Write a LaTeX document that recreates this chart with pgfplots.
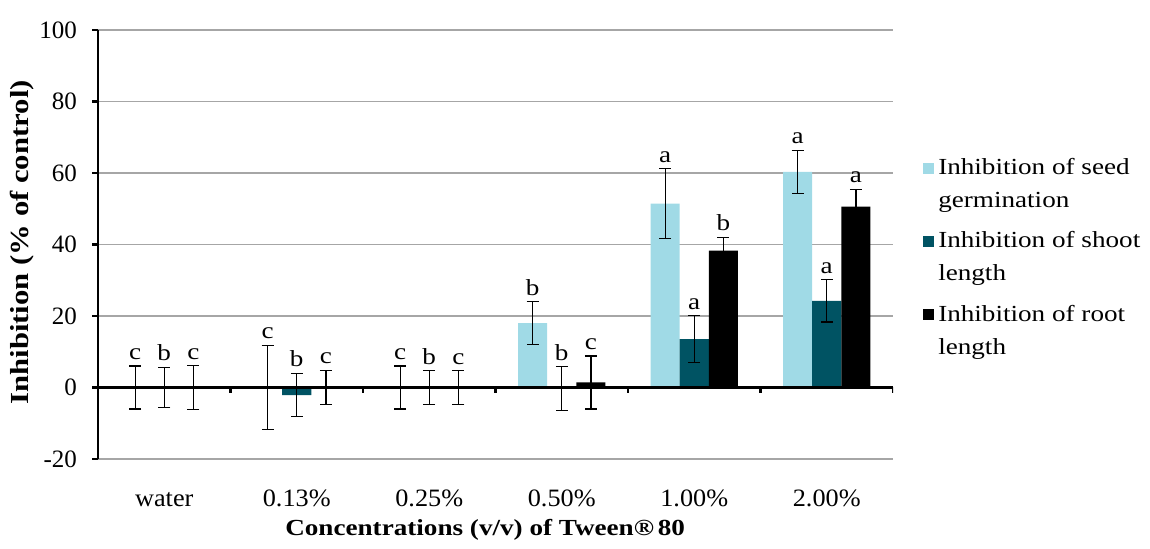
\documentclass[border=0pt]{standalone}
\usepackage{fontspec}
\setmainfont{Liberation Serif}
\newfontfamily\wide[FakeStretch=1.18]{Liberation Serif}
\newfontfamily\semiwide[FakeStretch=1.05]{Liberation Serif}
\usepackage{pgfplots}
\pgfplotsset{compat=1.18}
\definecolor{lb}{HTML}{A0DAE6}
\definecolor{tealc}{HTML}{005363}
\newcommand{\fs}{\fontsize{11.5}{13.5}\selectfont}
\begin{document}
\begin{tikzpicture}
\begin{axis}[name=ax, scale only axis, width=397.5pt, height=214.5pt,
  ymin=-20, ymax=100, ytick={-20,0,20,40,60,80,100},
  yticklabels={-20,0,20,40,60,80,100},
  xmin=-0.5, xmax=5.5, xtick={0,...,5},
  xticklabels={water,0.13\%,0.25\%,0.50\%,1.00\%,2.00\%},
  axis y line*=left, axis x line*=bottom,
  x axis line style={draw=none}, y axis line style={line width=1.2pt},
  xtick style={draw=none}, ytick style={line width=1.2pt, black},
  tick align=outside, major tick length=3pt,
  ymajorgrids, grid style={gray!70, line width=0.8pt},
  ybar=0pt, bar width=0.22,
  /pgf/number format/assume math mode=true,
  yticklabel style={font=\fontsize{12.5}{14}\selectfont, xshift=-4pt},
  xticklabel style={anchor=base, yshift=-21pt, inner sep=1pt, font=\semiwide\fontsize{12.5}{14}\selectfont},
  every axis y label/.style={at={(axis description cs:-0.0956,0.505)}, rotate=90, anchor=center, font=\wide\bfseries\fontsize{13}{15}\selectfont},
  every axis x label/.style={at={(axis description cs:0.487,-0.166)}, anchor=center, inner sep=1pt, font=\wide\bfseries\fs},
  ylabel={Inhibition (\% of control)},
  xlabel={Concentrations (v/v) of Tween®\,80},
  legend style={draw=none, at={(1.03,0.72)}, anchor=north west,
    font=\wide\fontsize{11.5}{16.5}\selectfont, cells={anchor=west, align=left}, row sep=6.5pt},
  legend image code/.code={\fill[#1] (0pt,5.5pt) rectangle (5.5pt,11pt);},
  error bars/error bar style={black, line width=0.6pt},
  error bars/error mark options={rotate=90, mark size=3pt, black, line width=0.6pt},
]
\addplot[fill=lb, draw=none, error bars/.cd, y dir=both, y explicit] coordinates {
 (0,0) +- (0,6.0) (1,0) +- (0,11.8) (2,0) +- (0,6.0) (3,18) +- (0,6.0) (4,51.4) +- (0,9.8) (5,60.3) +- (0,6.0)};
\addplot[fill=tealc, draw=none, error bars/.cd, y dir=both, y explicit] coordinates {
 (0,0) +- (0,5.7) (1,-2.1) +- (0,6.0) (2,0) +- (0,4.7) (3,-0.3) +- (0,6.1) (4,13.5) +- (0,6.6) (5,24.2) +- (0,5.9)};
\addplot[fill=black, draw=none, error bars/.cd, y dir=both, y explicit] coordinates {
 (0,0) +- (0,6.1) (1,0) +- (0,4.8) (2,0) +- (0,4.7) (3,1.4) +- (0,7.4) (4,38.3) +- (0,3.7) (5,50.6) +- (0,4.8)};
\legend{{Inhibition of seed\\germination},{Inhibition of shoot\\length},{Inhibition of root\\length}}
\draw[line width=1.2pt] (axis cs:-0.5,0) -- (axis cs:5.5,0);
\pgfplotsinvokeforeach{0.5,1.5,2.5,3.5,4.5,5.5}{\draw[line width=1.2pt] (axis cs:#1,0) -- ([yshift=-3pt]axis cs:#1,0);}
\tikzset{lt/.style={anchor=south, font=\wide\fs, inner sep=3pt}}
\node[lt] at (axis cs:-0.22,6.0) {c};
\node[lt] at (axis cs:0,5.7) {b};
\node[lt] at (axis cs:0.22,6.1) {c};
\node[lt] at (axis cs:0.78,11.8) {c};
\node[lt] at (axis cs:1,3.9) {b};
\node[lt] at (axis cs:1.22,4.8) {c};
\node[lt] at (axis cs:1.78,6.0) {c};
\node[lt] at (axis cs:2,4.7) {b};
\node[lt] at (axis cs:2.22,4.7) {c};
\node[lt] at (axis cs:2.78,24.0) {b};
\node[lt] at (axis cs:3,5.8) {b};
\node[lt] at (axis cs:3.22,8.8) {c};
\node[lt] at (axis cs:3.78,61.2) {a};
\node[lt] at (axis cs:4,20.1) {a};
\node[lt] at (axis cs:4.22,42.0) {b};
\node[lt] at (axis cs:4.78,66.3) {a};
\node[lt] at (axis cs:5,30.1) {a};
\node[lt] at (axis cs:5.22,55.4) {a};
\end{axis}
\pgfresetboundingbox
\path ([xshift=-49pt, yshift=-45pt]ax.south west) rectangle ([xshift=526pt, yshift=229.5pt]ax.south west);
\end{tikzpicture}
\end{document}
